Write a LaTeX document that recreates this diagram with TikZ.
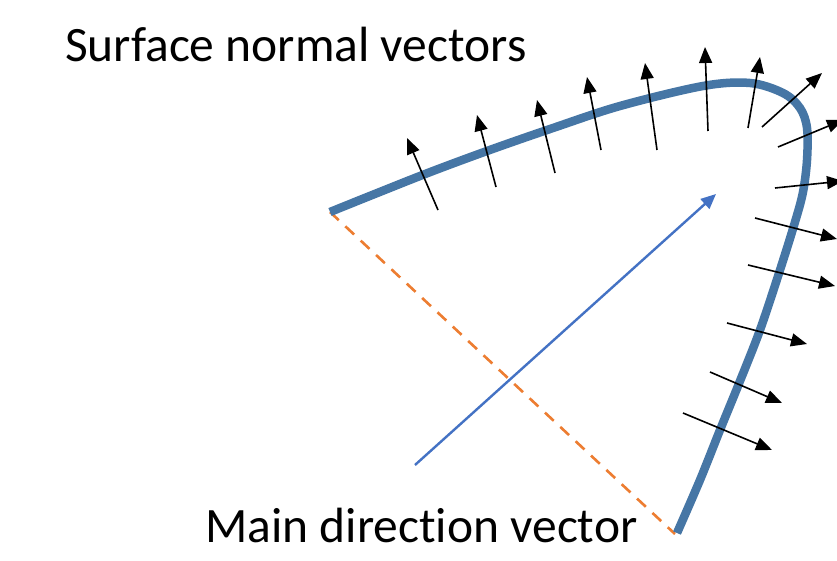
\documentclass[tikz,border=0pt]{standalone}
\usepackage{fontspec}
\setmainfont[Ligatures={NoCommon}]{Carlito}
\usetikzlibrary{arrows.meta}
\definecolor{curveblue}{RGB}{70,118,165}
\definecolor{mainblue}{RGB}{68,114,196}
\definecolor{dashorange}{RGB}{237,125,49}
\tikzset{
  normalvec/.style={draw=black, line width=1.6pt, -{Triangle[length=16pt,width=13pt]}},
  mainvec/.style={draw=mainblue, line width=2.4pt, -{Triangle[length=15pt,width=13pt]}},
  surfcurve/.style={draw=curveblue, line width=8.5pt, line cap=butt, line join=round},
  chord/.style={draw=dashorange, line width=2.6pt, dash pattern=on 12pt off 9pt},
  lbl/.style={font=\fontsize{49.5}{58}\selectfont, anchor=base west, inner sep=0pt, text=black}
}
\begin{document}
\begin{tikzpicture}[x=1pt,y=-1pt]
\useasboundingbox (0,0) rectangle (837,561);
\clip (0,0) rectangle (837,561);
\fill[white] (0,0) rectangle (837,561);
\coordinate (cs) at (330,212);
\coordinate (ce) at (675,534);
\draw[chord] (cs) -- (ce);
\draw[surfcurve] plot[smooth, tension=0.55] coordinates {(330,212) (420,176) (487,151) (553,128) (620,106) (703,86) (750,83) (783,93) (800,108) (807,128) (807,160) (803,192) (795,222) (780,270) (760,330) (740,381) (720,430) (700,480) (677,533)};
% normal vectors
\coordinate (t1) at (438,210); \coordinate (h1) at (407,138);
\coordinate (t2) at (496,187); \coordinate (h2) at (477,115);
\coordinate (t3) at (555,173); \coordinate (h3) at (537,100);
\coordinate (t4) at (601,150); \coordinate (h4) at (587,77);
\coordinate (t5) at (657,150); \coordinate (h5) at (645,63);
\coordinate (t6) at (708,131); \coordinate (h6) at (705,47);
\coordinate (t7) at (748,128); \coordinate (h7) at (760,57);
\coordinate (t8) at (762,127); \coordinate (h8) at (822,73);
\coordinate (t9) at (778,147); \coordinate (h9) at (843,120);
\coordinate (t10) at (775,188); \coordinate (h10) at (843,181);
\coordinate (t11) at (755,218); \coordinate (h11) at (837,239);
\coordinate (t12) at (748,265); \coordinate (h12) at (835,286);
\coordinate (t13) at (727,323); \coordinate (h13) at (807,344);
\coordinate (t14) at (710,372); \coordinate (h14) at (782,403);
\coordinate (t15) at (683,413); \coordinate (h15) at (772,450);
\foreach \i in {1,...,15} {\draw[normalvec] (t\i) -- (h\i);}
% main direction
\coordinate (ms) at (415,465);
\coordinate (me) at (716,194);
\draw[mainvec] (ms) -- (me);
\node[lbl] (top) at (65,62) {Surface normal vectors};
\node[lbl] (bot) at (205,542) {Main direction vector};
\end{tikzpicture}
\end{document}
